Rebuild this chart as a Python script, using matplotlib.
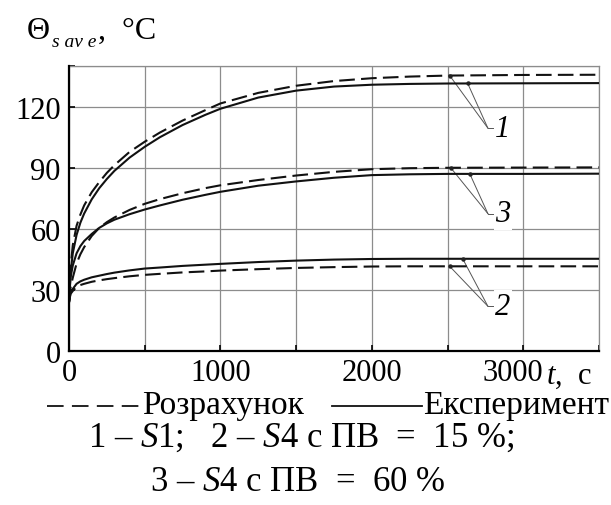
import matplotlib
matplotlib.use('Agg')
import matplotlib.pyplot as plt
from matplotlib.lines import Line2D
from matplotlib.transforms import ScaledTranslation
import numpy as np

plt.rcParams['font.family'] = ['Liberation Serif', 'DejaVu Serif']
plt.rcParams['mathtext.fontset'] = 'custom'
plt.rcParams['mathtext.rm'] = 'Liberation Serif'
plt.rcParams['mathtext.it'] = 'Liberation Serif:italic'

# time, s
t = [0, 10, 25, 50, 75, 100, 150, 200, 250, 300, 400, 500, 600, 750, 900, 1000,
     1250, 1500, 1750, 2000, 2250, 2500, 3000, 3500]

# curve 1 - S1
exp1 = [24, 38, 48, 57, 63, 67.5, 74.5, 80, 84.5, 88.5, 95, 100.3, 105, 111, 116, 119,
        124.5, 127.9, 129.9, 130.8, 131.2, 131.4, 131.5, 131.6]
calc1 = [24, 41, 52, 61.5, 67, 71.5, 78, 83, 87.5, 91.3, 97.8, 102.8, 107.3, 113.2, 118.3, 121.6,
         126.8, 130.3, 132.6, 134, 134.8, 135.3, 135.6, 135.7]
# curve 3 - S4, PV = 60 %
exp3 = [24, 36, 42, 48, 51.5, 54, 57.5, 60.5, 62.7, 64.5, 67.2, 69.5, 71.5, 74.3, 76.7, 78.2,
        81.2, 83.3, 85.1, 86.4, 86.8, 87, 87, 87.1]
calc3 = [24, 31, 36, 43, 47.5, 51, 56.5, 60.5, 63.3, 65.6, 69.3, 72.3, 74.6, 77.5, 80, 81.4,
         84, 86.2, 88, 89.3, 89.8, 90, 90.1, 90.2]
# curve 2 - S4, PV = 15 %
exp2 = [24, 28.5, 30.5, 33, 34.2, 35, 36.2, 37, 37.8, 38.5, 39.6, 40.5, 41, 41.8, 42.4, 42.8,
        43.7, 44.4, 44.9, 45.2, 45.3, 45.3, 45.3, 45.3]
calc2 = [24, 28, 29.5, 31.5, 32.4, 33, 34, 34.7, 35.3, 35.8, 36.7, 37.4, 37.9, 38.6, 39.1, 39.5,
         40.2, 40.8, 41.2, 41.5, 41.6, 41.6, 41.6, 41.6]

xticks = [0, 500, 1000, 1500, 2000, 2500, 3000, 3500]
xticklabels = ['0', '', '1000', '', '2000', '', '3000', '']
yticks = [0, 30, 60, 90, 120, 140]
yticklabels = ['0', '30', '60', '90', '120', '']

W, H = 611, 506
fig = plt.figure(figsize=(W / 100, H / 100), dpi=100)
ax = fig.add_axes([69 / W, 1 - 352 / H, 530 / W, 285 / H])

dash = (0, (7.5, 3))
for calc, exp in [(calc1, exp1), (calc3, exp3), (calc2, exp2)]:
    ax.plot(t, calc, color='#111111', lw=1.5, linestyle=dash, zorder=3)
    ax.plot(t, exp, color='#111111', lw=1.5, zorder=3)

ax.set_xlim(0, 3500)
ax.set_ylim(0, 140)
ax.set_xticks(xticks)
ax.set_xticklabels(xticklabels)
ax.set_yticks(yticks)
ax.set_yticklabels(yticklabels)
ax.tick_params(direction='in', length=4, width=1.2, labelsize=22, colors='black')
ax.tick_params(axis='x', pad=5)
ax.tick_params(axis='y', pad=6)
ax.grid(True, color='#8c8c8c', lw=0.9)
for s in ['left', 'bottom']:
    ax.spines[s].set_linewidth(1.6)
    ax.spines[s].set_zorder(4)
for s in ['top', 'right']:
    ax.spines[s].set_color('#8c8c8c')
    ax.spines[s].set_linewidth(0.9)

# "3000" sits a little to the left to make room for the unit
lab3000 = ax.get_xticklabels()[6]
lab3000.set_transform(lab3000.get_transform() + ScaledTranslation(-0.10, 0, fig.dpi_scale_trans))

# leader lines to the curve numbers
leaders = [
    ('1', calc1, exp1, 2514, 2633, 109.5),
    ('3', calc3, exp3, 2521, 2647, 67.5),
    ('2', calc2, exp2, 2514, 2600, 22.0),
]
for lab, calc, exp, tc, te, yl in leaders:
    for tt, yy in [(tc, calc), (te, exp)]:
        yv = np.interp(tt, t, yy)
        ax.plot([tt, 2766], [yv, yl], color='#555555', lw=0.7, zorder=2)
        ax.plot([tt], [yv], 'o', color='#222222', ms=2.2, zorder=4)
    ax.plot([2766, 2800], [yl, yl], color='#555555', lw=0.7, zorder=2)
    ax.text(2815, yl, lab, fontsize=22, style='italic', va='center', ha='left',
            zorder=5, bbox=dict(facecolor='white', edgecolor='none', pad=1.0))

# y axis title: Θ with italic subscript
fig.text(27 / W, 1 - 39 / H, 'Θ', fontsize=23, va='baseline', ha='left')
fig.text(52 / W, 1 - 47 / H, 's av e', fontsize=14, style='italic', va='baseline', ha='left')
fig.text(98 / W, 1 - 39 / H, ',  °C', fontsize=23, va='baseline', ha='left')
# x axis unit
fig.text(546 / W, 1 - 384 / H, r'$t$,  с', fontsize=22, va='baseline', ha='left')

# legend row
ly = 1 - 407 / H
fig.add_artist(Line2D([47 / W, 139 / W], [ly, ly], color='#111111', lw=1.3,
                      linestyle=(0, (9.2, 4.6)), transform=fig.transFigure))
fig.add_artist(Line2D([332 / W, 422 / W], [ly, ly], color='#111111', lw=1.3,
                      transform=fig.transFigure))
fig.text(142 / W, 1 - 414 / H, 'Розрахунок', fontsize=24, va='baseline', ha='left')
fig.text(423 / W, 1 - 414 / H, 'Експеримент', fontsize=24, va='baseline', ha='left')

fig.text(88 / W, 1 - 447 / H, r'$\mathit{1}$ – $S$1;   $\mathit{2}$ – $S$4 с ПВ  =  15 %;',
         fontsize=25, va='baseline', ha='left')
fig.text(150 / W, 1 - 491 / H, r'$\mathit{3}$ – $S$4 с ПВ  =  60 %', fontsize=25,
         va='baseline', ha='left')

fig.savefig('out.png', dpi=100)
